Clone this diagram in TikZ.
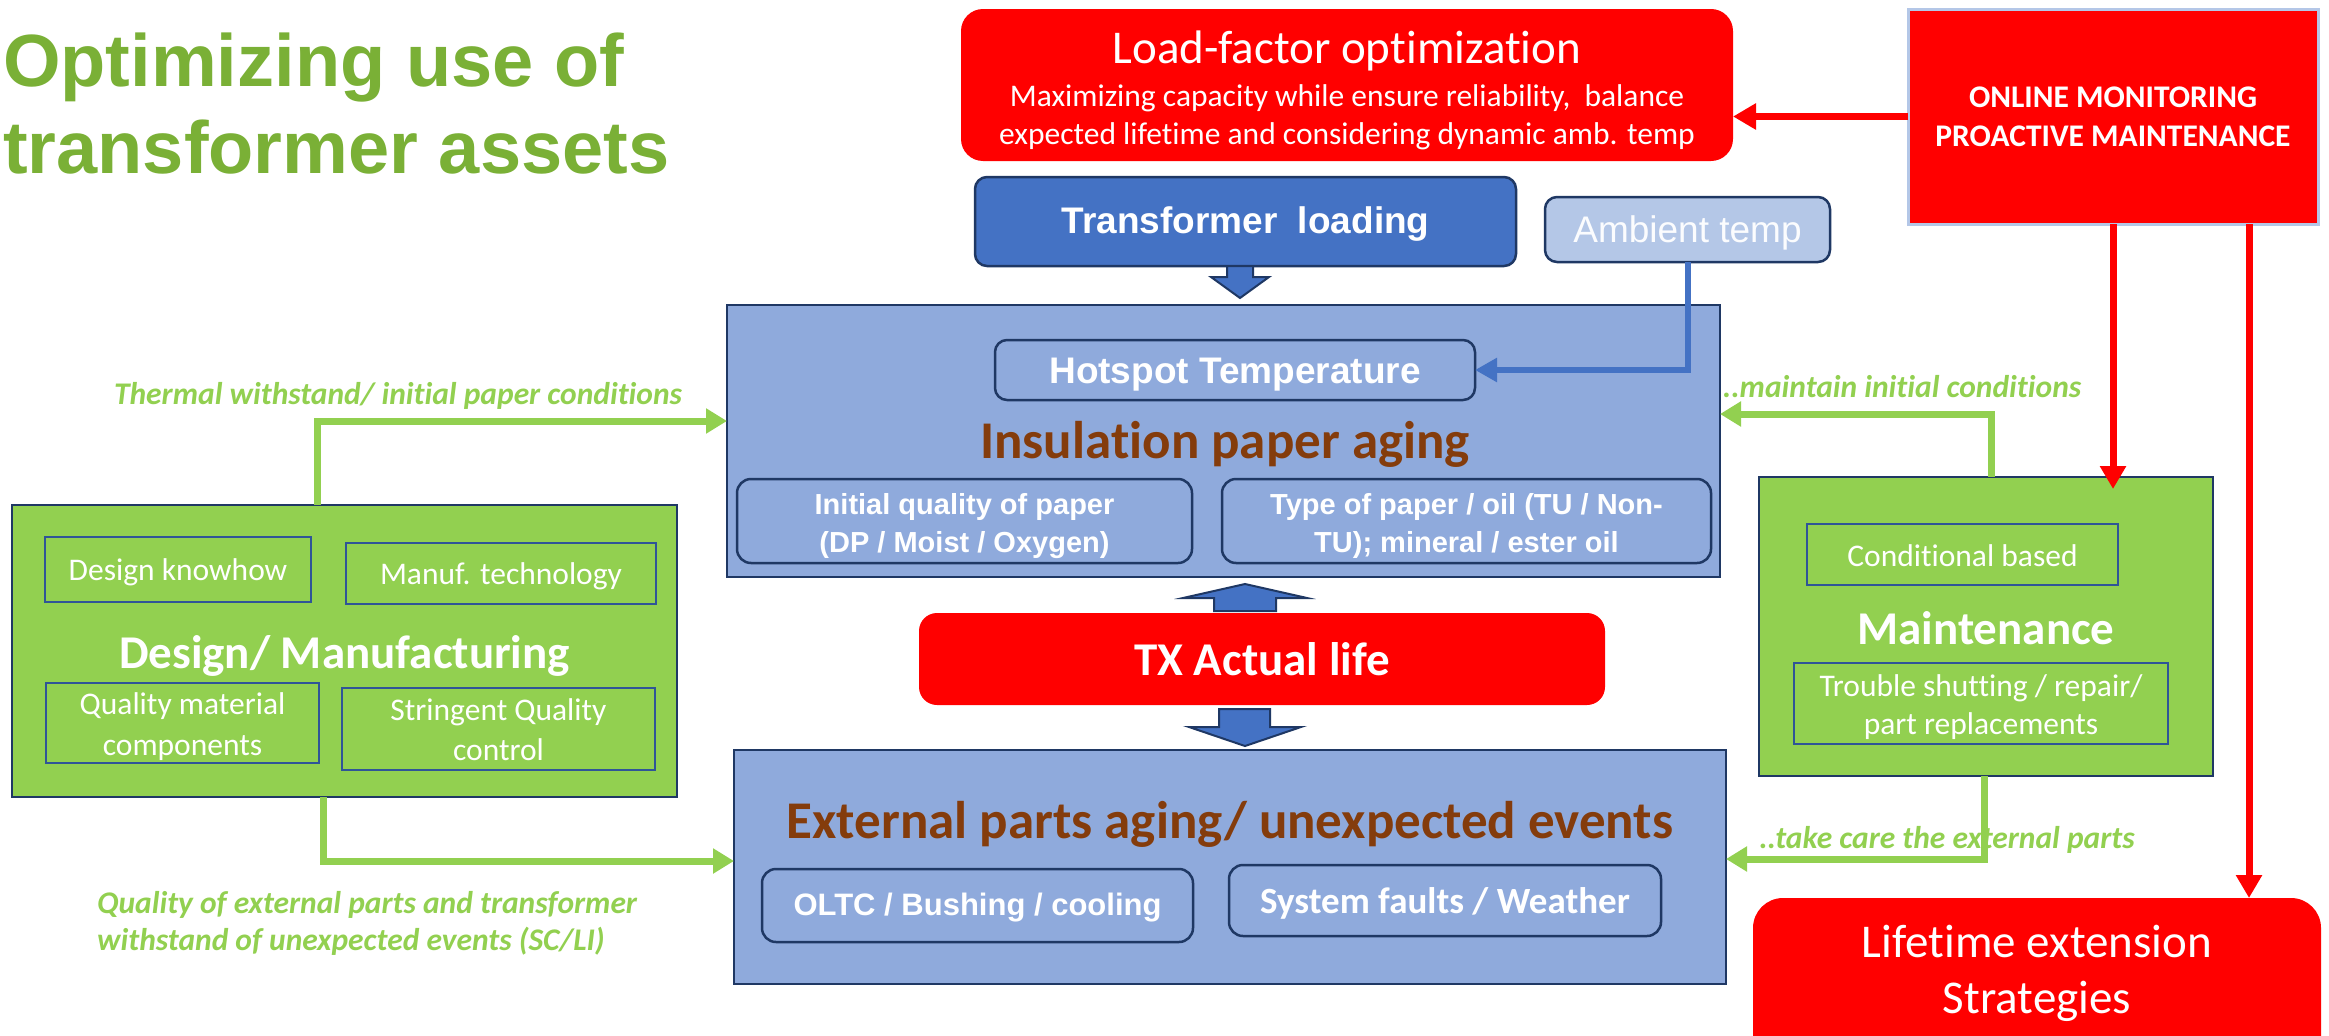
\documentclass[tikz,border=0pt]{standalone}
\usepackage{fontspec}
\setmainfont{Carlito}[Ligatures=NoCommon]
\newfontfamily\arialfont{Liberation Sans}
\usetikzlibrary{arrows.meta}
\definecolor{myred}{HTML}{FF0000}
\definecolor{mygreen}{HTML}{92D050}
\definecolor{titlegreen}{HTML}{7AB036}
\definecolor{bluefill}{HTML}{8FAADC}
\definecolor{darkblue}{HTML}{4472C4}
\definecolor{lightblue}{HTML}{B4C7E7}
\definecolor{navy}{HTML}{1F3864}
\definecolor{innerblue}{HTML}{2F5597}
\definecolor{brown}{HTML}{843C0C}
\newcommand\myfs[1]{\fontsize{#1}{#1}\selectfont}
\tikzset{
  shp/.style={inner sep=0pt, outer sep=0pt},
  redbox/.style={shp, fill=myred},
  bluebox/.style={shp, fill=bluefill, draw=navy, line width=2.5pt},
  greenbox/.style={shp, fill=mygreen, draw=navy, line width=2.5pt},
  innerbox/.style={shp, draw=innerblue, line width=2.5pt},
  wt/.style={inner sep=0pt, text=white, anchor=base},
  small/.style={font=\myfs{31.5}},
  smallb/.style={font=\bfseries\myfs{31.5}},
  big/.style={font=\myfs{47}},
  bigb/.style={font=\bfseries\myfs{47}},
  brownt/.style={inner sep=0pt, anchor=base, text=brown, font=\bfseries\myfs{53}},
  glabel/.style={inner sep=0pt, anchor=base, text=mygreen, font=\bfseries\itshape\myfs{31.5}},
  garrow/.style={draw=mygreen, line width=7pt, -{Triangle[width=24pt,length=21pt]}},
  rarrow/.style={draw=myred, line width=7pt, -{Triangle[width=25pt,length=23pt]}},
  barrow/.style={draw=darkblue, line width=6pt, -{Triangle[width=23pt,length=22pt]}},
  blockarrow/.style={fill=darkblue, draw=navy, line width=2pt, line join=miter},
}
\begin{document}
\begin{tikzpicture}[x=1pt,y=-1pt]
\useasboundingbox (0,0) rectangle (2329,1036);
\clip (0,0) rectangle (2329,1036);
\fill[white] (0,0) rectangle (2329,1036);

% title
\node[inner sep=0pt, anchor=base west, text=titlegreen, font=\arialfont\bfseries\myfs{74}] (t1) at (3,86) {Optimizing use of};
\node[inner sep=0pt, anchor=base west, text=titlegreen, font=\arialfont\bfseries\myfs{74}] (t2) at (3,173) {transformer assets};

% load-factor optimization
\node[redbox, rounded corners=22pt, minimum width=772pt, minimum height=152pt] (lf) at (1347,85) {};
\node[wt, big] (lf1) at (1347,63) {Load-factor optimization};
\node[wt, small] (lf2) at (1347,106) {Maximizing capacity while ensure reliability,\ \ balance};
\node[wt, small] (lf3) at (1347,144) {expected lifetime and considering dynamic amb. temp};

% online monitoring
\node[redbox, draw=lightblue, line width=3pt, minimum width=410pt, minimum height=215pt] (om) at (2113,116.5) {};
\node[wt, smallb] (om1) at (2113,107) {ONLINE MONITORING};
\node[wt, smallb] (om2) at (2113,146) {PROACTIVE MAINTENANCE};

% transformer loading / ambient temp
\node[bluebox, fill=darkblue, rounded corners=12pt, minimum width=541pt, minimum height=89pt] (tl) at (1245.5,221.5) {};
\node[wt, font=\arialfont\bfseries\myfs{37}] (tlt) at (1245.5,233) {Transformer\ \ loading};
\node[bluebox, fill=lightblue, rounded corners=12pt, minimum width=285pt, minimum height=65pt] (amb) at (1687.5,229.5) {};
\node[wt, text=white!95!lightblue, font=\arialfont\myfs{37}] (ambt) at (1687.5,242) {Ambient temp};

% insulation paper aging
\node[bluebox, minimum width=993pt, minimum height=272pt] (ins) at (1223.5,441) {};
\node[bluebox, rounded corners=12pt, minimum width=480pt, minimum height=60pt] (hs) at (1235,370) {};
\node[wt, font=\arialfont\bfseries\myfs{37}] (hst) at (1235,383) {Hotspot Temperature};
\node[brownt] (inst) at (1225,458) {Insulation paper aging};
\node[bluebox, rounded corners=14pt, minimum width=455pt, minimum height=84pt] (iq) at (964.5,521) {};
\node[wt, font=\arialfont\bfseries\myfs{29}] (iq1) at (964.5,514) {Initial quality of paper};
\node[wt, font=\arialfont\bfseries\myfs{29}] (iq2) at (964.5,552) {(DP / Moist / Oxygen)};
\node[bluebox, rounded corners=14pt, minimum width=489pt, minimum height=84pt] (tp) at (1466.5,521) {};
\node[wt, font=\arialfont\bfseries\myfs{29}] (tp1) at (1466.5,514) {Type of paper / oil (TU / Non-};
\node[wt, font=\arialfont\bfseries\myfs{29}] (tp2) at (1466.5,552) {TU); mineral / ester oil};

% block arrows
\path[blockarrow] (1227,266) -- (1253,266) -- (1253,277) -- (1269,277) -- (1240,298) -- (1211,277) -- (1227,277) -- cycle;
\path[blockarrow] (1214,611) -- (1276,611) -- (1276,598) -- (1307,598) -- (1245,584) -- (1183,598) -- (1214,598) -- cycle;
\path[blockarrow] (1219,709) -- (1270,709) -- (1270,727) -- (1301,727) -- (1245,746) -- (1189,727) -- (1219,727) -- cycle;

% TX actual life
\node[redbox, rounded corners=18pt, minimum width=686pt, minimum height=92pt] (tx) at (1262,659) {};
\node[wt, bigb] (txt) at (1262,675) {TX Actual life};

% external parts
\node[bluebox, minimum width=992pt, minimum height=234pt] (ext) at (1230,867) {};
\node[brownt] (extt) at (1230,838) {External parts aging/ unexpected events};
\node[bluebox, rounded corners=14pt, minimum width=431pt, minimum height=73pt] (oltc) at (977.5,905.5) {};
\node[wt, font=\arialfont\bfseries\myfs{31}] (oltct) at (977.5,915) {OLTC / Bushing / cooling};
\node[bluebox, rounded corners=14pt, minimum width=432pt, minimum height=71pt] (sys) at (1445,900.5) {};
\node[wt, font=\bfseries\myfs{37}] (syst) at (1445,913) {System faults / Weather};

% design / manufacturing
\node[greenbox, minimum width=665pt, minimum height=292pt] (dm) at (344.5,651) {};
\node[innerbox, minimum width=266pt, minimum height=65pt] (dk) at (178,569.5) {};
\node[wt, small] (dkt) at (178,580) {Design knowhow};
\node[innerbox, minimum width=310pt, minimum height=61pt] (mt) at (501,573.5) {};
\node[wt, small] (mtt) at (501,584) {Manuf. technology};
\node[wt, bigb] (dmt) at (344.5,668) {Design/ Manufacturing};
\node[innerbox, minimum width=273pt, minimum height=80pt] (qm) at (182.5,723) {};
\node[wt, small] (qm1) at (182.5,714) {Quality material};
\node[wt, small] (qm2) at (182.5,755) {components};
\node[innerbox, minimum width=313pt, minimum height=82pt] (sq) at (498.5,729) {};
\node[wt, small] (sq1) at (498.5,720) {Stringent Quality};
\node[wt, small] (sq2) at (498.5,760) {control};

% maintenance
\node[greenbox, minimum width=454pt, minimum height=299pt] (mn) at (1986,626.5) {};
\node[innerbox, minimum width=311pt, minimum height=61pt] (cb) at (1962.5,554.5) {};
\node[wt, small] (cbt) at (1962.5,566) {Conditional based};
\node[wt, bigb] (mnt) at (1986,644) {Maintenance};
\node[innerbox, minimum width=374pt, minimum height=81pt] (tr) at (1981,703.5) {};
\node[wt, small] (tr1) at (1981,696) {Trouble shutting / repair/};
\node[wt, small] (tr2) at (1981,734) {part replacements};

% lifetime extension
\node[redbox, rounded corners=30pt, minimum width=568pt, minimum height=202pt] (lt) at (2037,999) {};
\node[wt, big] (lt1) at (2037,957) {Lifetime extension};
\node[wt, big] (lt2) at (2037,1013) {Strategies};

% green labels
\node[glabel] (lbth) at (398,404) {Thermal withstand/ initial paper conditions};
\node[glabel, anchor=base west] (lbq1) at (97,913) {Quality of external parts and transformer};
\node[glabel, anchor=base west] (lbq2) at (97,950) {withstand of unexpected events (SC/LI)};
\node[glabel] (lbmi) at (1902,397) {..maintain initial conditions};
\node[glabel] (lbtc) at (1947,848) {..take care the external parts};

% connectors
\coordinate (c1) at (317,421);
\coordinate (c2) at (323,861);
\coordinate (c3) at (1991,414);
\coordinate (c4) at (1984,859);
\draw[garrow] (dm.north -| c1) |- (ins.west |- c1);
\draw[garrow] (dm.south -| c2) |- (ext.west |- c2);
\draw[garrow] (mn.north -| c3) |- (ins.east |- c3);
\draw[garrow] (mn.south -| c4) |- (ext.east |- c4);

\draw[barrow] (amb.south) |- (hs.east);

\coordinate (r2) at (2249,0);
\draw[rarrow] (om.west) -- (om.west -| lf.east);
\draw[rarrow, shorten >=-12pt] (om.south) -- (om.south |- mn.north);
\draw[rarrow] (om.south -| r2) -- (lt.north -| r2);
\end{tikzpicture}
\end{document}
